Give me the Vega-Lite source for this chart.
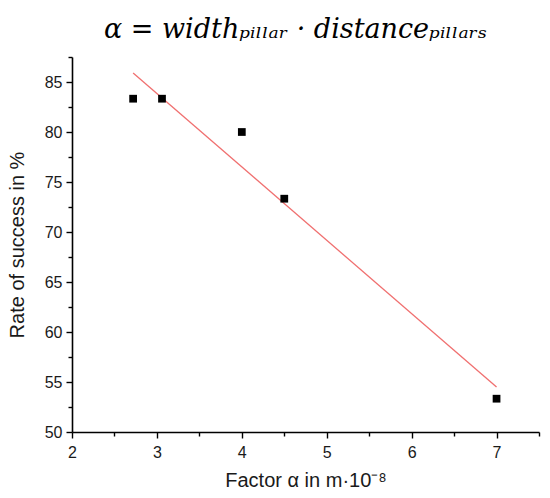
{
  "$schema": "https://vega.github.io/schema/vega-lite/v6.json",
  "width": 467,
  "height": 375,
  "autosize": {"type": "none"},
  "padding": {"left": 72, "top": 57, "right": 11, "bottom": 66},
  "background": "white",
  "title": {
    "text": "α = widthₚᵢₗₗₐᵣ · distanceₚᵢₗₗₐᵣₛ",
    "font": "DejaVu Serif",
    "fontStyle": "italic",
    "fontWeight": "normal",
    "fontSize": 27,
    "color": "black",
    "anchor": "middle",
    "dx": -10,
    "offset": 12
  },
  "datasets": {
    "points": [
      {"factor": 2.72, "rate": 83.33},
      {"factor": 3.06, "rate": 83.33},
      {"factor": 4.0, "rate": 80.0},
      {"factor": 4.5, "rate": 73.33},
      {"factor": 7.0, "rate": 53.33}
    ],
    "fit": [
      {"factor": 2.72, "rate": 85.9},
      {"factor": 7.0, "rate": 54.5}
    ]
  },
  "layer": [
    {
      "data": {"name": "fit"},
      "mark": {"type": "line", "color": "#f07070", "strokeWidth": 1.3},
      "encoding": {
        "x": {
          "field": "factor", "type": "quantitative",
          "scale": {"domain": [2, 7.5], "nice": false, "zero": false},
          "axis": {"orient": "bottom", "values": [2.5, 3.5, 4.5, 5.5, 6.5, 7.5], "labels": false, "domain": false, "tickSize": 4, "title": null}
        },
        "y": {
          "field": "rate", "type": "quantitative",
          "scale": {"domain": [50, 87.5], "nice": false, "zero": false},
          "axis": {"orient": "left", "values": [52.5, 57.5, 62.5, 67.5, 72.5, 77.5, 82.5, 87.5], "labels": false, "domain": false, "tickSize": 4, "title": null}
        }
      }
    },
    {
      "data": {"name": "points"},
      "mark": {"type": "point", "shape": "square", "filled": true, "color": "black", "size": 60, "opacity": 1},
      "encoding": {
        "x": {
          "field": "factor", "type": "quantitative",
          "axis": {"orient": "bottom", "values": [2, 3, 4, 5, 6, 7], "tickSize": 6, "labelPadding": 6, "title": "Factor α in m·10⁻⁸", "titlePadding": 10}
        },
        "y": {
          "field": "rate", "type": "quantitative",
          "axis": {"orient": "left", "values": [50, 55, 60, 65, 70, 75, 80, 85], "tickSize": 6, "labelPadding": 4, "title": "Rate of success in %", "titlePadding": 17}
        }
      }
    }
  ],
  "resolve": {"axis": {"x": "independent", "y": "independent"}},
  "config": {
    "view": {"stroke": null},
    "axis": {
      "grid": false,
      "domainColor": "black",
      "domainWidth": 1.6,
      "tickColor": "black",
      "tickWidth": 1.4,
      "labelFont": "Liberation Sans",
      "labelFontSize": 16,
      "labelColor": "#1a1a1a",
      "labelFlush": false,
      "titleFont": "Liberation Sans",
      "titleFontSize": 20,
      "titleFontWeight": "normal",
      "titleColor": "#1a1a1a"
    }
  }
}
